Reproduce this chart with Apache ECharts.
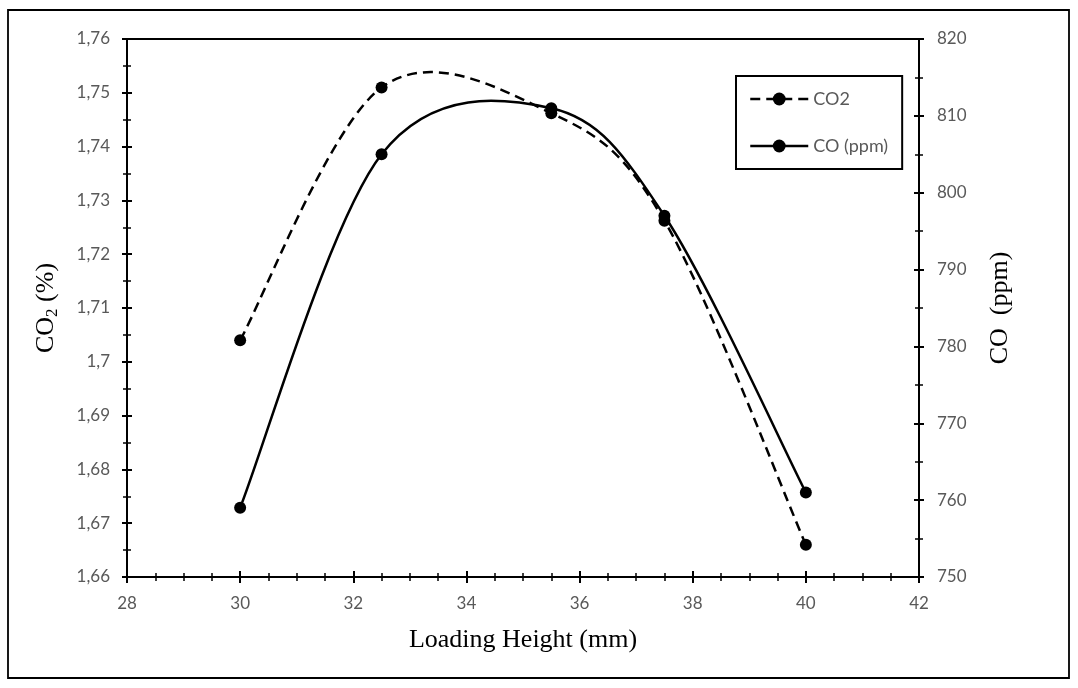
<!DOCTYPE html>
<html>
<head>
<meta charset="utf-8">
<script src="https://cdn.jsdelivr.net/npm/echarts@6/dist/echarts.min.js"></script>
<style>html,body{margin:0;padding:0;background:#fff;}#c{width:1078px;height:688px;}</style>
</head>
<body>
<div id="c"></div>
<script>
const loadingHeight = [30, 32.5, 35.5, 37.5, 40];
const co2Values = [1.704, 1.751, 1.7462, 1.7262, 1.666];
const coValues = [759, 805, 811, 797, 761];
const xTicks = { min: 28, max: 42, interval: 2 };
const leftTicks = { min: 1.66, max: 1.76, interval: 0.01 };
const rightTicks = { min: 750, max: 820, interval: 10 };

const chart = echarts.init(document.getElementById('c'), null, { renderer: 'canvas' });
const labelFont = 'Lato, "Open Sans", sans-serif';
const titleFont = '"Liberation Serif", "DejaVu Serif", serif';
const gray = '#595959';
const co2Dash = [10, 6];
const lineW = 2.5;

function fmtLeft(v) {
  return String(parseFloat(v.toFixed(3))).replace('.', ',');
}

// Smoothed curve (Excel-like cardinal spline) through the data points, positioned by the axes
function curveSeries(xs, ys, yIndex, dash) {
  return {
    type: 'custom',
    xAxisIndex: 0, yAxisIndex: yIndex,
    data: xs.map((x, i) => [x, ys[i]]),
    encode: { x: 0, y: 1 },
    silent: true,
    z: 2,
    renderItem: function (params, api) {
      if (params.dataIndex !== 0) return null;
      const p = xs.map((x, i) => api.coord([x, ys[i]]));
      const n = p.length;
      let d = 'M' + p[0][0] + ',' + p[0][1];
      for (let i = 0; i < n - 1; i++) {
        const p0 = p[Math.max(i - 1, 0)], p1 = p[i], p2 = p[i + 1], p3 = p[Math.min(i + 2, n - 1)];
        const c1x = p1[0] + (p2[0] - p0[0]) / 6, c1y = p1[1] + (p2[1] - p0[1]) / 6;
        const c2x = p2[0] - (p3[0] - p1[0]) / 6, c2y = p2[1] - (p3[1] - p1[1]) / 6;
        d += ' C' + c1x + ',' + c1y + ' ' + c2x + ',' + c2y + ' ' + p2[0] + ',' + p2[1];
      }
      return {
        type: 'path',
        shape: { pathData: d },
        style: { fill: 'none', stroke: '#000', lineWidth: lineW, lineDash: dash || null }
      };
    }
  };
}

const baseAxisLine = { show: true, lineStyle: { color: '#000', width: 2 } };

const option = {
  animation: false,
  backgroundColor: '#fff',
  graphic: [{
    type: 'rect',
    shape: { x: 8, y: 10, width: 1061, height: 668 },
    style: { fill: 'none', stroke: '#000', lineWidth: 1.8 },
    silent: true
  }],
  grid: {
    left: 127, top: 39, right: 159, bottom: 111,
    show: true, borderColor: '#000', borderWidth: 2, backgroundColor: 'transparent'
  },
  legend: {
    orient: 'vertical',
    left: 736, top: 76,
    padding: [14, 14, 14, 13],
    borderColor: '#000', borderWidth: 2,
    itemWidth: 58, itemHeight: 16, itemGap: 29,
    textStyle: { fontFamily: labelFont, fontSize: 18, color: gray, lineHeight: 16 },
    data: [
      { name: 'CO2', itemStyle: { color: '#000' },
        lineStyle: { color: '#000', width: lineW, type: co2Dash, opacity: 1 } },
      { name: 'CO (ppm)', itemStyle: { color: '#000' },
        lineStyle: { color: '#000', width: lineW, type: 'solid', opacity: 1 } }
    ]
  },
  xAxis: [{
    type: 'value',
    min: xTicks.min, max: xTicks.max, interval: xTicks.interval,
    position: 'bottom',
    name: 'Loading Height (mm)',
    nameLocation: 'middle', nameGap: 50,
    nameTextStyle: { fontFamily: titleFont, fontSize: 26, color: '#000' },
    axisLine: baseAxisLine,
    axisTick: { show: true, length: 6, lineStyle: { color: '#000', width: 2 } },
    minorTick: { show: true, splitNumber: 4, length: 4, lineStyle: { color: '#000', width: 1.5 } },
    axisLabel: { fontFamily: labelFont, fontSize: 17, color: gray, margin: 18 },
    splitLine: { show: false }
  }, {
    type: 'value',
    min: xTicks.min, max: xTicks.max, interval: xTicks.interval,
    position: 'bottom',
    axisLine: { show: false },
    axisTick: { show: true, inside: true, length: 6, lineStyle: { color: '#000', width: 2 } },
    minorTick: { show: true, splitNumber: 4, length: 4, lineStyle: { color: '#000', width: 1.5 } },
    axisLabel: { show: false },
    splitLine: { show: false }
  }],
  yAxis: [{
    type: 'value',
    min: leftTicks.min, max: leftTicks.max, interval: leftTicks.interval,
    position: 'left',
    name: '{a|CO}{b|2}{a| (%)}',
    nameLocation: 'middle', nameGap: 66, nameRotate: 90,
    nameTextStyle: {
      fontFamily: titleFont, fontSize: 26, color: '#000',
      rich: {
        a: { fontFamily: titleFont, fontSize: 26, color: '#000', lineHeight: 30, verticalAlign: 'middle' },
        b: { fontFamily: titleFont, fontSize: 17, color: '#000', lineHeight: 30, verticalAlign: 'bottom' }
      }
    },
    axisLine: baseAxisLine,
    axisTick: { show: true, length: 5, lineStyle: { color: '#000', width: 2 } },
    minorTick: { show: true, splitNumber: 2, length: 4, lineStyle: { color: '#000', width: 1.5 } },
    axisLabel: { fontFamily: labelFont, fontSize: 17, color: gray, margin: 17, formatter: fmtLeft },
    splitLine: { show: false }
  }, {
    type: 'value',
    min: rightTicks.min, max: rightTicks.max, interval: rightTicks.interval,
    position: 'right',
    name: 'CO  (ppm)',
    nameLocation: 'middle', nameGap: 68, nameRotate: 90,
    nameTextStyle: { fontFamily: titleFont, fontSize: 26, color: '#000' },
    axisLine: baseAxisLine,
    axisTick: { show: true, length: 5, lineStyle: { color: '#000', width: 2 } },
    minorTick: { show: true, splitNumber: 2, length: 4, lineStyle: { color: '#000', width: 1.5 } },
    axisLabel: { fontFamily: labelFont, fontSize: 17, color: gray, margin: 18 },
    splitLine: { show: false }
  }, {
    type: 'value',
    min: leftTicks.min, max: leftTicks.max, interval: leftTicks.interval,
    position: 'left',
    axisLine: { show: false },
    axisTick: { show: true, inside: true, length: 5, lineStyle: { color: '#000', width: 2 } },
    minorTick: { show: true, splitNumber: 2, length: 4, lineStyle: { color: '#000', width: 1.5 } },
    axisLabel: { show: false },
    splitLine: { show: false }
  }, {
    type: 'value',
    min: rightTicks.min, max: rightTicks.max, interval: rightTicks.interval,
    position: 'right',
    axisLine: { show: false },
    axisTick: { show: true, inside: true, length: 5, lineStyle: { color: '#000', width: 2 } },
    minorTick: { show: true, splitNumber: 2, length: 4, lineStyle: { color: '#000', width: 1.5 } },
    axisLabel: { show: false },
    splitLine: { show: false }
  }],
  series: [
    curveSeries(loadingHeight, co2Values, 0, co2Dash),
    curveSeries(loadingHeight, coValues, 1, null),
    {
      name: 'CO2',
      type: 'line',
      xAxisIndex: 0, yAxisIndex: 0,
      data: loadingHeight.map((x, i) => [x, co2Values[i]]),
      symbol: 'circle', symbolSize: 12,
      itemStyle: { color: '#000' },
      lineStyle: { color: '#000', width: lineW, type: co2Dash, opacity: 0 },
      z: 4
    }, {
      name: 'CO (ppm)',
      type: 'line',
      xAxisIndex: 0, yAxisIndex: 1,
      data: loadingHeight.map((x, i) => [x, coValues[i]]),
      symbol: 'circle', symbolSize: 12,
      itemStyle: { color: '#000' },
      lineStyle: { color: '#000', width: lineW, type: 'solid', opacity: 0 },
      z: 5
    }
  ]
};
chart.setOption(option);
</script>
</body>
</html>
